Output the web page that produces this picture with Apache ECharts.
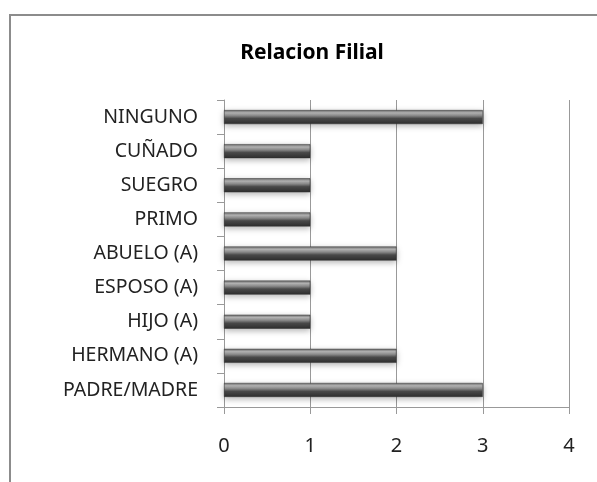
<!DOCTYPE html>
<html>
<head>
<meta charset="utf-8">
<script src="https://cdn.jsdelivr.net/npm/echarts@6/dist/echarts.min.js"></script>
<style>
  html, body { margin: 0; padding: 0; background: #fff; }
  #chart { width: 597px; height: 482px; }
</style>
</head>
<body>
<div id="chart"></div>
<script>
var categories = ['PADRE/MADRE', 'HERMANO (A)', 'HIJO (A)', 'ESPOSO (A)', 'ABUELO (A)', 'PRIMO', 'SUEGRO', 'CUÑADO', 'NINGUNO'];
var values = [3, 2, 1, 1, 2, 1, 1, 1, 3];
var xTicks = [0, 1, 2, 3, 4];

var chart = echarts.init(document.getElementById('chart'));

var barColor = new echarts.graphic.LinearGradient(0, 0, 0, 1, [
    { offset: 0, color: '#6a6a6a' },
    { offset: 0.2, color: '#b4b4b4' },
    { offset: 0.4, color: '#8a8a8a' },
    { offset: 0.6, color: '#4a4a4a' },
    { offset: 1, color: '#2e2e2e' }
]);

var option = {
    animation: false,
    textStyle: { fontFamily: 'Noto Sans' },
    title: {
        text: 'Relacion Filial',
        left: 307,
        textAlign: 'center',
        top: 38,
        textStyle: { fontSize: 21, fontWeight: 'bold', color: '#000', fontFamily: 'Noto Sans' }
    },
    graphic: [{
        type: 'rect',
        shape: { x: 10, y: 15, width: 620, height: 520 },
        style: { fill: 'none', stroke: '#8c8c8c', lineWidth: 2 },
        silent: true
    }],
    grid: { left: 224, right: 28, top: 100, bottom: 75 },
    xAxis: {
        type: 'value',
        min: xTicks[0],
        max: xTicks[xTicks.length - 1],
        interval: 1,
        axisLine: { show: true, lineStyle: { color: '#999' } },
        axisTick: { show: true, length: 7, lineStyle: { color: '#999' } },
        splitLine: { show: true, lineStyle: { color: '#999' } },
        axisLabel: { color: '#222', fontSize: 20, margin: 29 }
    },
    yAxis: {
        type: 'category',
        data: categories,
        axisLine: { show: true, lineStyle: { color: '#999' } },
        axisTick: { show: true, length: 7, lineStyle: { color: '#999' } },
        axisLabel: { color: '#222', fontSize: 19.5, margin: 26 }
    },
    series: [{
        type: 'bar',
        data: values,
        barWidth: 14,
        itemStyle: {
            color: barColor,
            borderColor: '#333',
            borderWidth: 0.5,
            shadowBlur: 6,
            shadowOffsetY: 2,
            shadowColor: 'rgba(0,0,0,0.3)'
        }
    }]
};

chart.setOption(option);
</script>
</body>
</html>
